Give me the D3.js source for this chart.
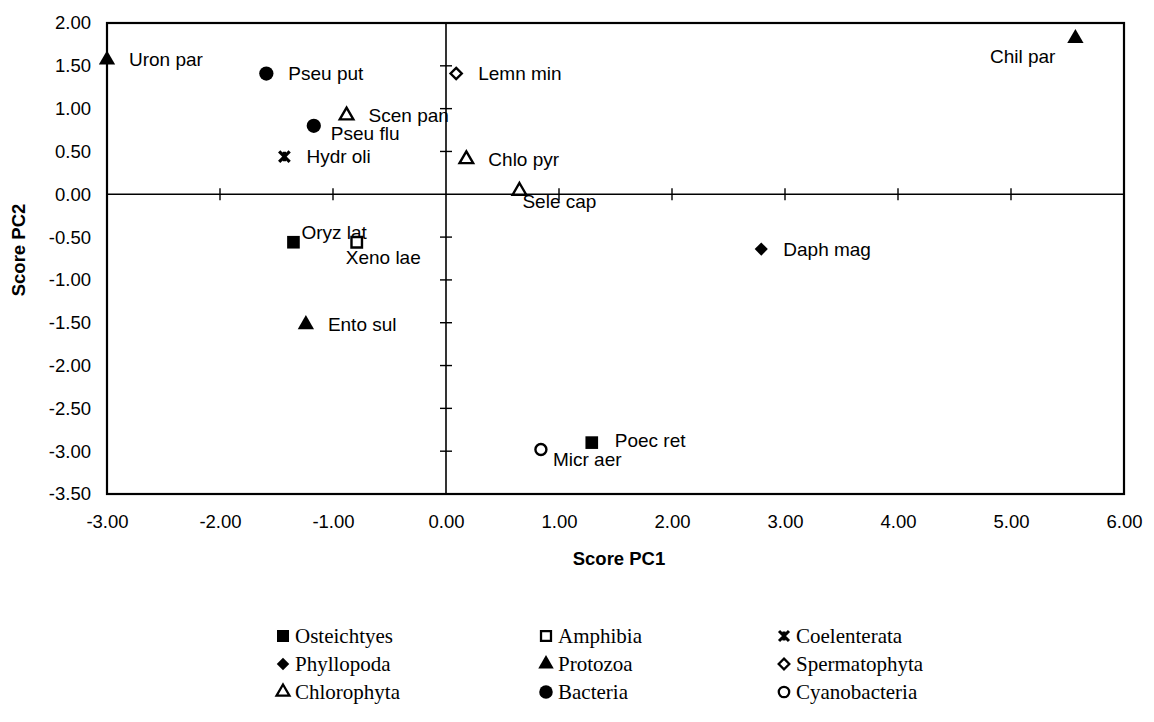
<!DOCTYPE html>
<html>
<head>
<meta charset="utf-8">
<script src="https://cdn.jsdelivr.net/npm/d3@7"></script>
<style>
    body { margin: 0; background: #fff; }
    svg { display: block; }
    .tick-label { font-family: "Liberation Sans", Arial, sans-serif; font-size: 18.5px; fill: #000; }
    .pt-label { font-family: "Liberation Sans", Arial, sans-serif; font-size: 19px; fill: #000; }
    .axis-title { font-family: "Liberation Sans", Arial, sans-serif; font-size: 18.5px; font-weight: bold; fill: #000; }
    .legend-text { font-family: "Liberation Serif", "Times New Roman", serif; font-size: 21px; fill: #000; }
</style>
</head>
<body>
<svg id="chart" width="1154" height="722"></svg>
<script>
// species scores on the first two principal components
const species = ["Uron par", "Pseu put", "Scen pan", "Pseu flu", "Hydr oli", "Lemn min", "Chlo pyr",
    "Sele cap", "Chil par", "Oryz lat", "Xeno lae", "Ento sul", "Daph mag", "Poec ret", "Micr aer"];
const pc1 = [-3.00, -1.59, -0.88, -1.17, -1.43, 0.09, 0.18, 0.65, 5.57, -1.35, -0.79, -1.24, 2.79, 1.29, 0.84];
const pc2 = [1.57, 1.41, 0.92, 0.80, 0.44, 1.41, 0.41, 0.04, 1.82, -0.56, -0.56, -1.52, -0.64, -2.90, -2.98];
const group = ["Protozoa", "Bacteria", "Chlorophyta", "Bacteria", "Coelenterata", "Spermatophyta", "Chlorophyta",
    "Chlorophyta", "Protozoa", "Osteichtyes", "Amphibia", "Protozoa", "Phyllopoda", "Osteichtyes", "Cyanobacteria"];

// legend order (read row by row, three columns)
const groups = ["Osteichtyes", "Amphibia", "Coelenterata", "Phyllopoda", "Protozoa", "Spermatophyta",
    "Chlorophyta", "Bacteria", "Cyanobacteria"];

const xTicks = [-3, -2, -1, 0, 1, 2, 3, 4, 5, 6];
const yTicks = [2, 1.5, 1, 0.5, 0, -0.5, -1, -1.5, -2, -2.5, -3, -3.5];

// star marker: an X with a vertical stroke
const symbolStar = {
    draw(ctx, size) {
        const r = Math.sqrt(size) / 2;
        ctx.moveTo(-r, -r); ctx.lineTo(r, r);
        ctx.moveTo(r, -r); ctx.lineTo(-r, r);
        ctx.moveTo(0, -r * 0.9); ctx.lineTo(0, r * 0.9);
    }
};

const markerStyle = {
    Osteichtyes:   {type: d3.symbolSquare, size: 160, fill: "#000"},
    Amphibia:      {type: d3.symbolSquare, size: 110, fill: "#fff"},
    Coelenterata:  {type: symbolStar, size: 110, fill: "none"},
    Phyllopoda:    {type: d3.symbolDiamond2, size: 110, fill: "#000"},
    Protozoa:      {type: d3.symbolTriangle, size: 115, fill: "#000"},
    Spermatophyta: {type: d3.symbolDiamond2, size: 80, fill: "#fff"},
    Chlorophyta:   {type: d3.symbolTriangle, size: 80, fill: "#fff"},
    Bacteria:      {type: d3.symbolCircle, size: 160, fill: "#000"},
    Cyanobacteria: {type: d3.symbolCircle, size: 95, fill: "#fff"}
};

// label offsets relative to the marker (dx, dy, anchor)
const labelPos = {
    "Chil par": [-20, 18, "end"],
    "Pseu flu": [17, 8, "start"],
    "Oryz lat": [8, -10, "start"],
    "Xeno lae": [-11, 15, "start"],
    "Sele cap": [3, 11, "start"],
    "Micr aer": [12, 10, "start"],
    "Poec ret": [23, -2, "start"]
};

const svg = d3.select("#chart");
const x = d3.scaleLinear().domain([-3, 6]).range([107, 1124]);
const y = d3.scaleLinear().domain([-3.5, 2]).range([494, 23]);
const fmt = d => d.toFixed(2);

// plot frame
svg.append("rect")
    .attr("x", x(-3)).attr("y", y(2))
    .attr("width", x(6) - x(-3)).attr("height", y(-3.5) - y(2))
    .attr("fill", "none").attr("stroke", "#000").attr("stroke-width", 2.2);

// axes crossing at zero
svg.append("line")
    .attr("x1", x(-3)).attr("x2", x(6)).attr("y1", y(0)).attr("y2", y(0))
    .attr("stroke", "#000").attr("stroke-width", 1.6);
svg.append("line")
    .attr("x1", x(0)).attr("x2", x(0)).attr("y1", y(2)).attr("y2", y(-3.5))
    .attr("stroke", "#000").attr("stroke-width", 1.6);

svg.selectAll(".xcross")
    .data(xTicks.filter(d => d > -3 && d < 6 && d !== 0))
    .join("line")
    .attr("class", "xcross")
    .attr("x1", d => x(d)).attr("x2", d => x(d))
    .attr("y1", y(0) - 6).attr("y2", y(0) + 6)
    .attr("stroke", "#000").attr("stroke-width", 1.4);

svg.selectAll(".ycross")
    .data(yTicks.filter(d => d < 2 && d > -3.5 && d !== 0))
    .join("line")
    .attr("class", "ycross")
    .attr("x1", x(0) - 6).attr("x2", x(0) + 6)
    .attr("y1", d => y(d)).attr("y2", d => y(d))
    .attr("stroke", "#000").attr("stroke-width", 1.4);

// tick labels
const xAxis = svg.append("g")
    .attr("transform", `translate(0,${y(-3.5)})`)
    .call(d3.axisBottom(x).tickValues(xTicks).tickFormat(fmt).tickSize(0).tickPadding(21));
const yAxis = svg.append("g")
    .attr("transform", `translate(${x(-3)},0)`)
    .call(d3.axisLeft(y).tickValues(yTicks).tickFormat(fmt).tickSize(0).tickPadding(16));
[xAxis, yAxis].forEach(g => {
    g.select(".domain").remove();
    g.attr("font-family", null).attr("font-size", null);
    g.selectAll("text").attr("class", "tick-label");
});

// axis titles
svg.append("text")
    .attr("class", "axis-title")
    .attr("x", 619).attr("y", 565)
    .attr("text-anchor", "middle")
    .text("Score PC1");
svg.append("text")
    .attr("class", "axis-title")
    .attr("transform", "translate(25,250) rotate(-90)")
    .attr("text-anchor", "middle")
    .text("Score PC2");

// points
const points = species.map((name, i) => ({name, pc1: pc1[i], pc2: pc2[i], group: group[i]}));

function drawMarker(sel, grp, scale) {
    const st = markerStyle[grp];
    const open = st.fill !== "#000";
    sel.append("path")
        .attr("d", d3.symbol().type(st.type).size(st.size * scale * scale)())
        .attr("fill", st.fill)
        .attr("stroke", open ? "#000" : "none")
        .attr("stroke-width", (st.type === symbolStar ? 3.2 : 2.4) * scale);
}

const pts = svg.selectAll(".pt")
    .data(points)
    .join("g")
    .attr("class", "pt")
    .attr("transform", d => `translate(${x(d.pc1)},${y(d.pc2)})`);
pts.each(function (d) { drawMarker(d3.select(this), d.group, 1); });

pts.append("text")
    .attr("class", "pt-label")
    .attr("x", d => labelPos[d.name] ? labelPos[d.name][0] : 22)
    .attr("y", d => labelPos[d.name] ? labelPos[d.name][1] : 0)
    .attr("dy", "0.35em")
    .attr("text-anchor", d => labelPos[d.name] ? labelPos[d.name][2] : "start")
    .text(d => d.name);

// legend
const colX = [283, 546, 784];
const rowY = [636, 664, 692];
const legend = svg.selectAll(".legend-item")
    .data(groups)
    .join("g")
    .attr("class", "legend-item")
    .attr("transform", (d, i) => `translate(${colX[i % 3]},${rowY[Math.floor(i / 3)]})`);
legend.each(function (d) { drawMarker(d3.select(this), d, 0.95); });
legend.append("text")
    .attr("class", "legend-text")
    .attr("x", 12).attr("dy", "0.33em")
    .text(d => d);
</script>
</body>
</html>
